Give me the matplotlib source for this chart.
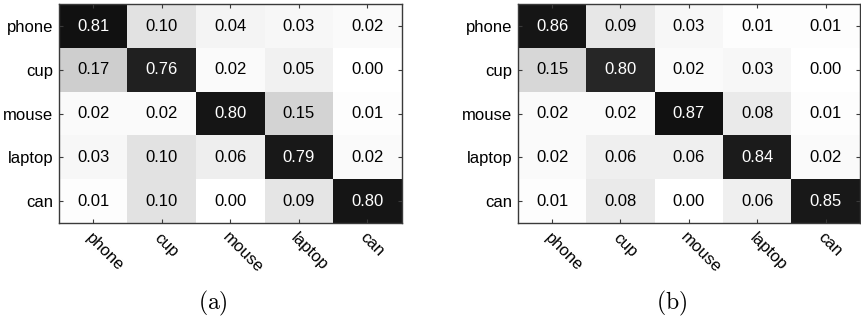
import numpy as np
import matplotlib.pyplot as plt

plt.rcParams['font.family'] = ['Liberation Sans', 'DejaVu Sans']
plt.rcParams['mathtext.fontset'] = 'cm'

# Class names, rows = true class, columns = predicted class
classes = ['phone', 'cup', 'mouse', 'laptop', 'can']

conf_a = [
    [0.81, 0.10, 0.04, 0.03, 0.02],
    [0.17, 0.76, 0.02, 0.05, 0.00],
    [0.02, 0.02, 0.80, 0.15, 0.01],
    [0.03, 0.10, 0.06, 0.79, 0.02],
    [0.01, 0.10, 0.00, 0.09, 0.80],
]

conf_b = [
    [0.86, 0.09, 0.03, 0.01, 0.01],
    [0.15, 0.80, 0.02, 0.03, 0.00],
    [0.02, 0.02, 0.87, 0.08, 0.01],
    [0.02, 0.06, 0.06, 0.84, 0.02],
    [0.01, 0.08, 0.00, 0.06, 0.85],
]

captions = ['(a)', '(b)']

fig = plt.figure(figsize=(8.61, 3.2), dpi=100)
axes = [fig.add_axes([0.0685, 0.303, 0.398, 0.684]),
        fig.add_axes([0.6015, 0.303, 0.397, 0.684])]

fs = 12
edge = '#3a3a3a'
for ax, conf, cap in zip(axes, [conf_a, conf_b], captions):
    m = np.array(conf)
    ax.imshow(m, cmap='gray_r', vmin=0, vmax=m.max() * 1.08,
              aspect='auto', interpolation='nearest')
    for i in range(m.shape[0]):
        for j in range(m.shape[1]):
            v = m[i, j]
            ax.text(j, i, f'{v:.2f}', ha='center', va='center',
                    fontsize=fs, color='white' if v > 0.5 else 'black')

    ax.set_xticks(range(len(classes)))
    ax.set_yticks(range(len(classes)))
    ax.set_yticklabels(classes, fontsize=fs)
    ax.set_xticklabels(classes, fontsize=fs, rotation=-45,
                       ha='left', va='top', rotation_mode='anchor')
    ax.tick_params(direction='in', length=3, width=0.8, color=edge,
                   top=True, right=True, pad=4)
    ax.tick_params(axis='x', pad=5)
    for s in ax.spines.values():
        s.set_color(edge)
        s.set_linewidth(1.0)

    # subfigure caption, centred under the panel
    bb = ax.get_position()
    ax_cx = bb.x0 + bb.width / 2 - 17 / 861
    fig.text(ax_cx, 1 - 303 / 320, r'$\mathrm{' + cap + '}$',
             ha='center', va='center', fontsize=17)

fig.savefig('out.png', dpi=100)
